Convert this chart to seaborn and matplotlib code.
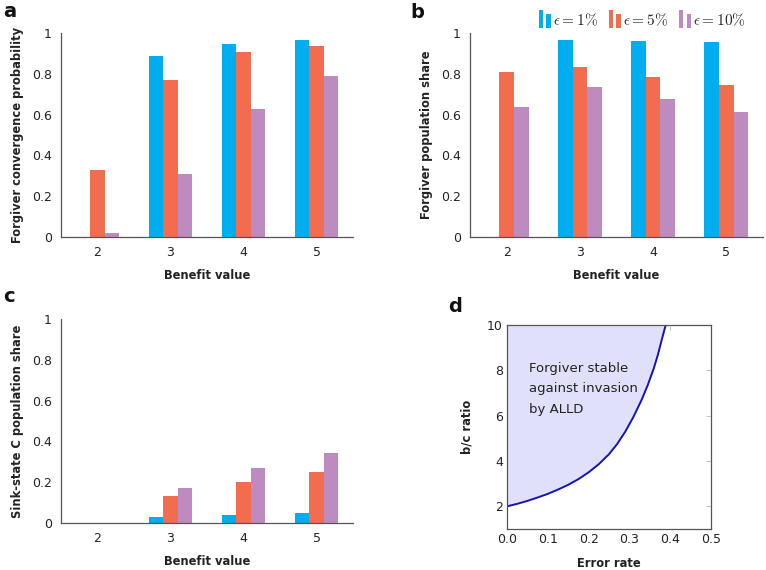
import matplotlib
matplotlib.use("Agg")
import matplotlib.pyplot as plt
import seaborn as sns
import pandas as pd
import numpy as np
from matplotlib.legend_handler import HandlerBase
from matplotlib.patches import Rectangle, Patch

# ---------------- data ----------------
benefits = ["2", "3", "4", "5"]
eps_labels = [r"$\epsilon = 1\%$", r"$\epsilon = 5\%$", r"$\epsilon = 10\%$"]

conv_1 = [0.0, 0.889, 0.948, 0.967]
conv_5 = [0.330, 0.770, 0.905, 0.936]
conv_10 = [0.020, 0.310, 0.627, 0.788]

share_1 = [0.0, 0.967, 0.961, 0.954]
share_5 = [0.807, 0.832, 0.783, 0.747]
share_10 = [0.636, 0.734, 0.675, 0.613]

sink_1 = [0.002, 0.029, 0.041, 0.051]
sink_5 = [0.002, 0.132, 0.199, 0.250]
sink_10 = [0.002, 0.173, 0.268, 0.344]

err_rate = [0.0, 0.025, 0.05, 0.075, 0.1, 0.125, 0.15, 0.175, 0.2, 0.225,
            0.25, 0.27, 0.29, 0.31, 0.33, 0.345, 0.36, 0.37, 0.38, 0.389]
bc_ratio = [2.0, 2.11, 2.24, 2.39, 2.55, 2.74, 2.95, 3.2, 3.5, 3.86,
            4.3, 4.75, 5.3, 5.95, 6.7, 7.35, 8.1, 8.7, 9.4, 10.0]

bar_ticks = [0, 0.2, 0.4, 0.6, 0.8, 1]
bar_ticklabels = ["0", "0.2", "0.4", "0.6", "0.8", "1"]
d_xticks = [0.0, 0.1, 0.2, 0.3, 0.4, 0.5]
d_yticks = [2, 4, 6, 8, 10]

colors = ["#00AEEF", "#F26D50", "#BE8BC0"]

# ---------------- style ----------------
sns.set_theme(style="white")
plt.rcParams["font.family"] = ["DejaVu Sans"]
plt.rcParams["mathtext.fontset"] = "cm"

TXT = "#222222"
SPINE = "#555555"
LABEL_FS = 8.3


def long_df(a, b, c):
    rows = []
    for lab, vals in zip(eps_labels, (a, b, c)):
        for bv, v in zip(benefits, vals):
            rows.append({"benefit": bv, "eps": lab, "value": v})
    return pd.DataFrame(rows)


fig = plt.figure(figsize=(7.66, 5.70), dpi=100)
W, H = 766.0, 570.0


def add_ax(left, top, right, bottom):
    return fig.add_axes([left / W, 1 - bottom / H, (right - left) / W, (bottom - top) / H])


axa = add_ax(61, 33, 353, 237)
axb = add_ax(470, 33, 763, 237)
axc = add_ax(61, 319, 353, 523)
axd = add_ax(507, 325, 711, 529)


def style_bar_ax(ax, ylabel):
    ax.set_xlim(-0.5, 3.5)
    ax.set_ylim(0, 1)
    ax.set_yticks(bar_ticks)
    ax.set_yticklabels(bar_ticklabels)
    for s in ["top", "right"]:
        ax.spines[s].set_visible(False)
    for s in ["left", "bottom"]:
        ax.spines[s].set_color(SPINE)
        ax.spines[s].set_linewidth(0.9)
    ax.tick_params(axis="both", direction="out", length=3.5, width=0.6,
                   color="#aaaaaa", labelsize=9, labelcolor=TXT, pad=3)
    ax.set_xlabel("Benefit value", fontsize=LABEL_FS, fontweight="bold", color=TXT)
    ax.set_ylabel(ylabel, fontsize=LABEL_FS, fontweight="bold", color=TXT)
    ax.xaxis.set_label_coords(0.5, -0.155)
    ax.yaxis.set_label_coords(-0.125, 0.5)
    if ax.get_legend() is not None:
        ax.get_legend().remove()


for ax, vals, ylab in [
    (axa, (conv_1, conv_5, conv_10), "Forgiver convergence probability"),
    (axb, (share_1, share_5, share_10), "Forgiver population share"),
    (axc, (sink_1, sink_5, sink_10), "Sink-state C population share"),
]:
    df = long_df(*vals)
    sns.barplot(data=df, x="benefit", y="value", hue="eps", hue_order=eps_labels,
                palette=colors, width=0.6, saturation=1, linewidth=0, ax=ax,
                errorbar=None)
    style_bar_ax(ax, ylab)


# ---------------- legend ----------------
class TwoBars(HandlerBase):
    def create_artists(self, legend, orig_handle, xdescent, ydescent, width,
                       height, fontsize, trans):
        fc = orig_handle.get_facecolor()
        bw = width * 0.36
        r1 = Rectangle((-xdescent, -ydescent - 0.15 * height), bw, height * 1.45,
                       facecolor=fc, edgecolor="none", transform=trans)
        r2 = Rectangle((-xdescent + width - bw, -ydescent - 0.15 * height), bw,
                       height * 1.15, facecolor=fc, edgecolor="none", transform=trans)
        return [r1, r2]


handles = [Patch(facecolor=c) for c in colors]
fig.legend(handles, eps_labels, loc="center right", bbox_to_anchor=(752 / W, 1 - 20 / H),
           ncol=3, frameon=False, fontsize=11, handlelength=0.8, handleheight=0.85,
           handletextpad=0.15, columnspacing=0.7, borderaxespad=0,
           handler_map={Patch: TwoBars()})

# ---------------- panel d ----------------
axd.fill_between(err_rate, bc_ratio, 10, color="#E0E0FA", linewidth=0)
sns.lineplot(x=err_rate, y=bc_ratio, color="#1414B4", linewidth=1.4, ax=axd)
axd.set_xlim(0, 0.5)
axd.set_ylim(1, 10)
axd.set_xticks(d_xticks)
axd.set_xticklabels([f"{v:.1f}" for v in d_xticks])
axd.set_yticks(d_yticks)
for s in axd.spines.values():
    s.set_color(SPINE)
    s.set_linewidth(0.9)
axd.tick_params(axis="both", direction="in", length=3.5, width=0.6, color="#bbbbbb",
                labelsize=9, labelcolor=TXT, top=True, right=True, pad=3)
axd.set_xlabel("Error rate", fontsize=LABEL_FS, fontweight="bold", color=TXT)
axd.set_ylabel("b/c ratio", fontsize=LABEL_FS, fontweight="bold", color=TXT)
axd.xaxis.set_label_coords(0.5, -0.135)
axd.yaxis.set_label_coords(-0.165, 0.5)
axd.text(0.055, 8.38, "Forgiver stable\nagainst invasion\nby ALLD", fontsize=9.5,
         color=TXT, ha="left", va="top", linespacing=1.75)

# ---------------- panel letters ----------------
for lab, x, y in [("a", 3, 17), ("b", 410, 18), ("c", 3, 302), ("d", 448, 312)]:
    fig.text(x / W, 1 - y / H, lab, fontsize=14, fontweight="bold", color="#111111",
             ha="left", va="baseline")

fig.savefig("out.png", dpi=100)
